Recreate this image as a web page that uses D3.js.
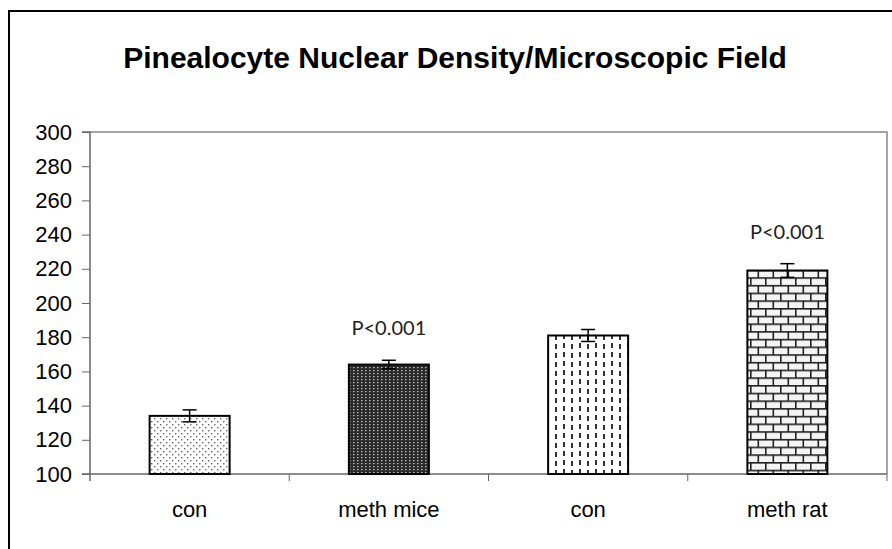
<!DOCTYPE html>
<html><head><meta charset="utf-8">
<script src="https://cdn.jsdelivr.net/npm/d3@7"></script>
<style>body{margin:0;background:#fff}svg{display:block}</style>
</head><body>
<svg id="c" width="892" height="549"></svg>
<script>
const categories = ["con", "meth mice", "con", "meth rat"];
const values = [134, 164, 181, 219];
const errors = [3.5, 2.5, 3.5, 4];
const pLabels = ["", "P<0.001", "", "P<0.001"];
const patterns = ["dots", "dark", "dashes", "bricks"];
const yTicks = [100, 120, 140, 160, 180, 200, 220, 240, 260, 280, 300];
const title = "Pinealocyte Nuclear Density/Microscopic Field";

const svg = d3.select("#c");
const defs = svg.append("defs");

// dotted pattern
const p1 = defs.append("pattern").attr("id", "dots").attr("patternUnits", "userSpaceOnUse").attr("width", 6).attr("height", 6);
p1.append("rect").attr("width", 6).attr("height", 6).attr("fill", "#fff");
p1.append("rect").attr("x", 1).attr("y", 1).attr("width", 1.4).attr("height", 1.4).attr("fill", "#666");
p1.append("rect").attr("x", 4).attr("y", 4).attr("width", 1.4).attr("height", 1.4).attr("fill", "#666");
// dark pattern
const p2 = defs.append("pattern").attr("id", "dark").attr("patternUnits", "userSpaceOnUse").attr("width", 4).attr("height", 3);
p2.append("rect").attr("width", 4).attr("height", 3).attr("fill", "#2a2a2a");
p2.append("rect").attr("x", 1).attr("y", 1).attr("width", 1.5).attr("height", 1.2).attr("fill", "#bdbdbd");
// dashes pattern
const p3 = defs.append("pattern").attr("id", "dashes").attr("patternUnits", "userSpaceOnUse").attr("width", 16).attr("height", 9);
p3.append("rect").attr("width", 16).attr("height", 9).attr("fill", "#fff");
p3.append("rect").attr("x", 3).attr("y", 1).attr("width", 2).attr("height", 5).attr("fill", "#333");
p3.append("rect").attr("x", 11).attr("y", 2).attr("width", 2).attr("height", 5).attr("fill", "#333");
// bricks
const p4 = defs.append("pattern").attr("id", "bricks").attr("patternUnits", "userSpaceOnUse").attr("width", 15).attr("height", 15.4);
p4.append("rect").attr("width", 15).attr("height", 15.4).attr("fill", "#f4f4f4");
p4.append("rect").attr("x", 0).attr("y", 0).attr("width", 15).attr("height", 1.6).attr("fill", "#222");
p4.append("rect").attr("x", 0).attr("y", 7.7).attr("width", 15).attr("height", 1.6).attr("fill", "#222");
p4.append("rect").attr("x", 0).attr("y", 0).attr("width", 1.6).attr("height", 7.7).attr("fill", "#222");
p4.append("rect").attr("x", 7.5).attr("y", 7.7).attr("width", 1.6).attr("height", 7.7).attr("fill", "#222");

// outer border
svg.append("rect").attr("x", 9).attr("y", 11).attr("width", 1000).attr("height", 1000)
  .attr("fill", "none").attr("stroke", "#000").attr("stroke-width", 2);

const m = {left: 90, top: 132, right: 887, bottom: 474};
const y = d3.scaleLinear().domain([100, 300]).range([m.bottom, m.top]);
const xb = d3.scaleLinear().domain([0, categories.length]).range([m.left, m.right]);

// plot area border (top, right)
svg.append("path").attr("d", `M${m.left},${m.top}H${m.right}V${m.bottom}`)
  .attr("fill", "none").attr("stroke", "#888").attr("stroke-width", 1.5);

// title
svg.append("text").attr("x", 455).attr("y", 68).attr("text-anchor", "middle")
  .attr("font-family", "Liberation Sans, Arial, sans-serif").attr("font-weight", "bold").attr("font-size", 30)
  .text(title);

// y axis
const yAxis = d3.axisLeft(y).tickValues(yTicks).tickSize(8).tickPadding(10).tickFormat(d3.format("d"));
const ga = svg.append("g").attr("transform", `translate(${m.left},0)`).call(yAxis);
ga.select(".domain").attr("stroke", "#666").attr("stroke-width", 1.5).attr("d", `M-8,${m.top}H0V${m.bottom + 7}`);
ga.selectAll(".tick line").attr("stroke", "#666");
ga.selectAll("text").attr("font-family", "Liberation Sans, Arial, sans-serif").attr("font-size", 22).attr("fill", "#000");

// x axis
const gx = svg.append("g").attr("transform", `translate(0,${m.bottom})`);
gx.append("line").attr("x1", m.left - 8).attr("x2", m.right).attr("stroke", "#666").attr("stroke-width", 1.5);
gx.selectAll("line.tk").data(d3.range(1, categories.length + 1)).join("line").attr("class", "tk")
  .attr("x1", d => xb(d)).attr("x2", d => xb(d)).attr("y1", 0).attr("y2", 7).attr("stroke", "#666");
gx.selectAll("text").data(categories).join("text")
  .attr("x", (d, i) => xb(i + 0.5)).attr("y", 43).attr("text-anchor", "middle")
  .attr("font-family", "Liberation Sans, Arial, sans-serif").attr("font-size", 22).text(d => d);

// bars
const bw = 80;
svg.selectAll("rect.bar").data(values).join("rect").attr("class", "bar")
  .attr("x", (d, i) => xb(i + 0.5) - bw / 2).attr("width", bw)
  .attr("y", d => y(d)).attr("height", d => y(100) - y(d))
  .attr("fill", (d, i) => `url(#${patterns[i]})`).attr("stroke", "#000").attr("stroke-width", 2);

// error bars
const eg = svg.selectAll("g.err").data(values).join("g").attr("class", "err");
eg.append("line").attr("x1", (d, i) => xb(i + 0.5)).attr("x2", (d, i) => xb(i + 0.5))
  .attr("y1", (d, i) => y(d + errors[i])).attr("y2", (d, i) => y(d - errors[i])).attr("stroke", "#000").attr("stroke-width", 1.5);
eg.append("line").attr("x1", (d, i) => xb(i + 0.5) - 7).attr("x2", (d, i) => xb(i + 0.5) + 7)
  .attr("y1", (d, i) => y(d + errors[i])).attr("y2", (d, i) => y(d + errors[i])).attr("stroke", "#000").attr("stroke-width", 1.5);
eg.append("line").attr("x1", (d, i) => xb(i + 0.5) - 7).attr("x2", (d, i) => xb(i + 0.5) + 7)
  .attr("y1", (d, i) => y(d - errors[i])).attr("y2", (d, i) => y(d - errors[i])).attr("stroke", "#000").attr("stroke-width", 1.5);

// p labels
svg.selectAll("text.p").data(values).join("text").attr("class", "p")
  .attr("x", (d, i) => xb(i + 0.5)).attr("y", (d, i) => y(d + errors[i]) - 25).attr("text-anchor", "middle")
  .attr("font-family", "Lato, Open Sans, sans-serif").attr("font-size", 20).attr("fill", "#222")
  .text((d, i) => pLabels[i]);
</script>
</body></html>
